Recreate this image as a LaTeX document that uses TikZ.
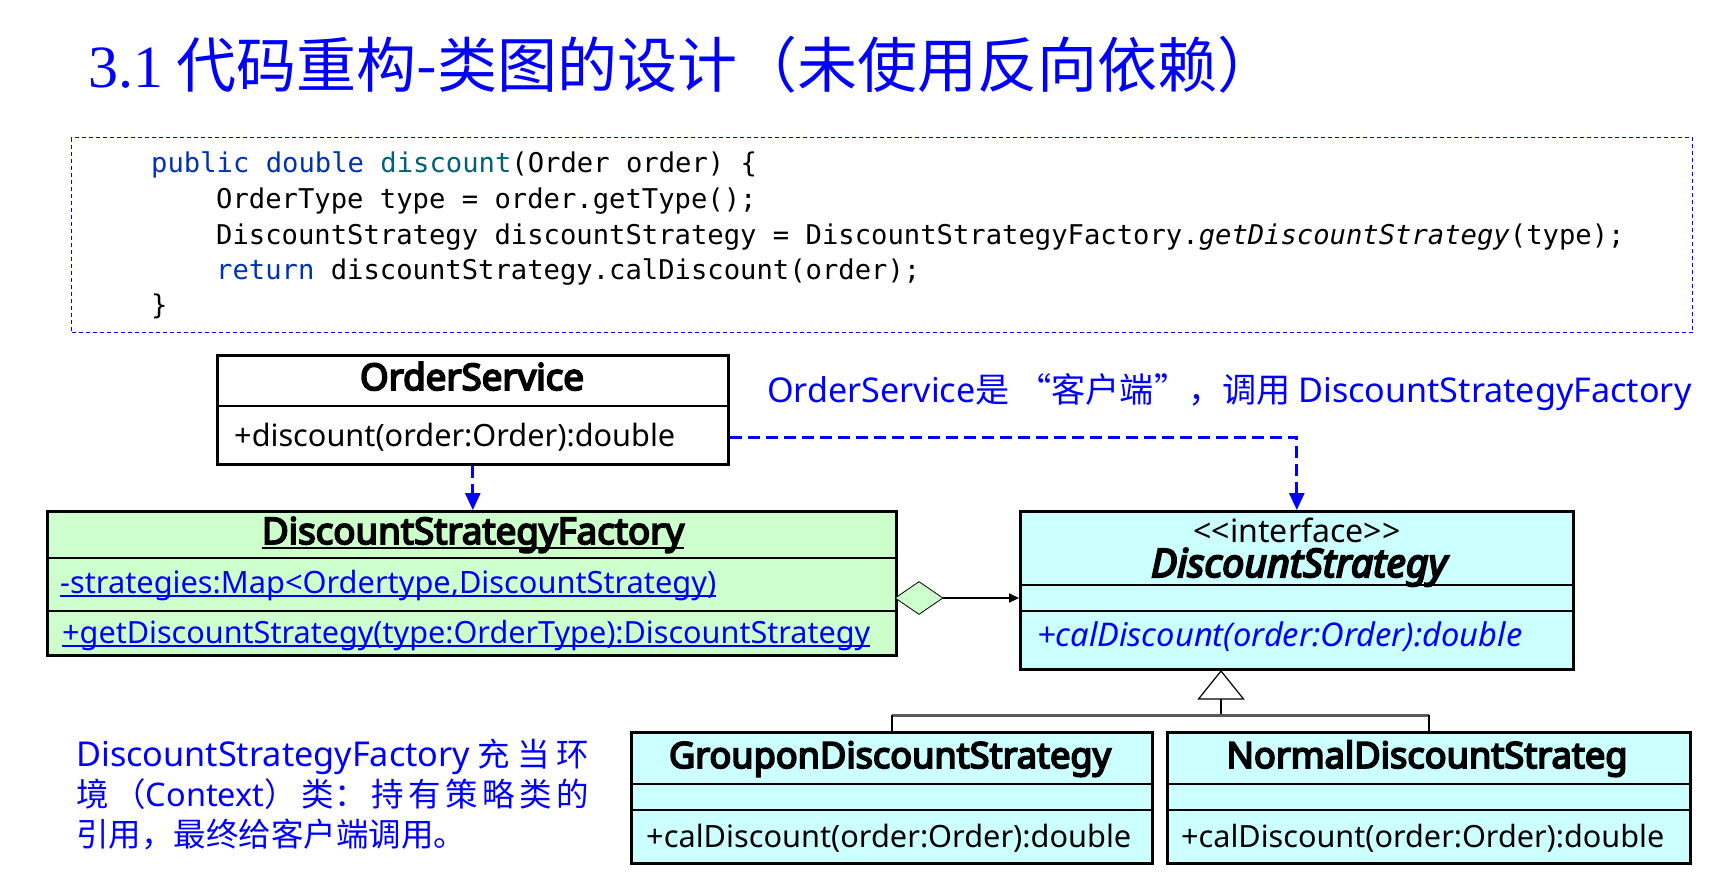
\documentclass[tikz,border=0pt]{standalone}
\usepackage{fontspec}
\setmainfont{Noto Sans CJK SC}
\newfontfamily\umlf{Noto Sans}
\newfontfamily\umlb{Noto Sans}[FakeBold=5]
\newfontfamily\codef{DejaVu Sans Mono}
\newfontfamily\numf{Liberation Serif}
\usetikzlibrary{arrows.meta,shapes.geometric,calc}
\definecolor{kw}{RGB}{0,51,179}
\definecolor{fn}{RGB}{0,98,122}
\definecolor{fgreen}{RGB}{204,255,204}
\definecolor{fcyan}{RGB}{204,255,255}
\newcommand\fitw[2]{\resizebox{#1}{!}{#2}}
\newcommand\ulx[1]{\setbox0\hbox{#1}\rlap{\rule[-0.14em]{\wd0}{0.07em}}\box0}
\newcommand\lat[1]{{\umlf #1}}
\begin{document}
\begin{tikzpicture}[x=1pt,y=-1pt,
  umlbox/.style={draw=black, line width=2.6pt, anchor=north west, inner sep=0pt},
  sepline/.style={line width=2.6pt},
  dep/.style={draw=blue, line width=2.8pt, dash pattern=on 12pt off 6pt, -{Triangle[width=15pt,length=17pt]}},
  txt/.style={anchor=base west, inner sep=0pt, font=\umlf},
  ctxt/.style={anchor=base, inner sep=0pt, font=\umlf},
  codeline/.style={anchor=base west, inner sep=0pt, font=\codef\fontsize{27.2}{32}\selectfont},
  note/.style={anchor=base west, inner sep=0pt, text=blue}]
\useasboundingbox (0,0) rectangle (1731,879);
\fill[white] (0,0) rectangle (1731,879);

% title
\node[anchor=base west, inner sep=0pt, text=blue, font=\fontsize{60}{72}\selectfont] (title) at (88,87)
  {{\numf 3.1} 代码重构-类图的设计（未使用反向依赖）};

% code
\node[draw=blue, dash pattern=on 4pt off 3pt, line width=1.2pt, minimum width=1621pt, minimum height=195pt, anchor=north west, inner sep=0pt] (code) at (71,137) {};
\node[codeline] (c1) at (151,172) {\textcolor{kw}{public double} \textcolor{fn}{discount}(Order order) \{};
\node[codeline] (c2) at (216,208) {OrderType type = order.getType();};
\node[codeline] (c3) at (216,244) {DiscountStrategy discountStrategy = DiscountStrategyFactory.\textit{getDiscountStrategy}(type);};
\node[codeline] (c4) at (216,279) {\textcolor{kw}{return} discountStrategy.calDiscount(order);};
\node[codeline] (c5) at (151,314) {\}};

% OrderService
\node[umlbox, fill=white, minimum width=511pt, minimum height=109pt] (os) at (216,354) {};
\draw[sepline] (216,406) -- (727,406);
\node[ctxt] (osn) at (472,390) {\fitw{224pt}{\umlb OrderService}};
\node[txt] (osm) at (234,446) {\fitw{441pt}{+discount(order:Order):double}};

% DiscountStrategyFactory
\node[umlbox, fill=fgreen, minimum width=849pt, minimum height=144pt] (dsf) at (46,510) {};
\draw[sepline] (46,558) -- (895,558);
\draw[sepline] (46,611) -- (895,611);
\node[ctxt] (dsfn) at (473,544) {\fitw{422pt}{\ulx{\umlb DiscountStrategyFactory}}};
\node[txt, text=blue] (dsfa) at (60,593) {\fitw{656pt}{\ulx{-strategies:Map<Ordertype,DiscountStrategy)}}};
\node[txt, text=blue] (dsfm) at (62,643) {\fitw{808pt}{\ulx{+getDiscountStrategy(type:OrderType):DiscountStrategy}}};

% DiscountStrategy interface
\node[umlbox, fill=fcyan, minimum width=553pt, minimum height=158pt] (ds) at (1019,510) {};
\draw[sepline] (1019,585) -- (1572,585);
\draw[sepline] (1019,611) -- (1572,611);
\node[ctxt] (dsst) at (1297,542) {\fitw{207pt}{<<interface>>}};
\node[ctxt] (dsn) at (1299,577) {\fitw{296pt}{\umlb\itshape DiscountStrategy}};
\node[txt, text=blue] (dsm) at (1037,646) {\fitw{485pt}{\itshape +calDiscount(order:Order):double}};

% Groupon
\node[umlbox, fill=fcyan, minimum width=521pt, minimum height=131pt] (gds) at (630,731) {};
\draw[sepline] (630,784) -- (1151,784);
\draw[sepline] (630,810) -- (1151,810);
\node[ctxt] (gdsn) at (890,768) {\fitw{442pt}{\umlb GrouponDiscountStrategy}};
\node[txt] (gdsm) at (646,847) {\fitw{485pt}{+calDiscount(order:Order):double}};

% Normal
\node[umlbox, fill=fcyan, minimum width=523pt, minimum height=131pt] (nds) at (1166,731) {};
\draw[sepline] (1166,784) -- (1689,784);
\draw[sepline] (1166,810) -- (1689,810);
\node[ctxt] (ndsn) at (1427,768) {\fitw{401pt}{\umlb NormalDiscountStrateg}};
\node[txt] (ndsm) at (1181,847) {\fitw{483pt}{+calDiscount(order:Order):double}};

% dependencies
\draw[dep] (os.south) -- (os.south |- dsf.north);
\draw[dep] ($(os.south east)+(0,-28)$) -| (ds.north);

% aggregation
\node[diamond, draw=black, line width=0.8pt, fill=fgreen, minimum width=48pt, minimum height=33pt, inner sep=0pt] (agg) at (919,598) {};
\draw[line width=2pt, -{Triangle[width=9pt,length=10pt]}] (agg.east) -- (agg.east -| ds.west);

% generalization
\coordinate (genapex) at (1221,671);
\coordinate (genbase) at (1221,699);
\coordinate (bar) at (1221,715);
\draw[line width=2pt] (genbase) -- (bar);
\draw[line width=3pt, black!65] (gds.north |- bar) -- (nds.north |- bar);
\draw[line width=1.5pt] (gds.north) -- (gds.north |- bar);
\draw[line width=1.5pt] (nds.north) -- (nds.north |- bar);
\draw[line width=1.2pt, fill=white] (genapex) -- ($(genbase)+(22.5,0)$) -- ($(genbase)+(-22.5,0)$) -- cycle;

% notes
\node[note] (note1) at (767,402) {\fitw{924pt}{\lat{OrderService}是 “客户端”，调用 \lat{DiscountStrategyFactory}}};
\node[note, font=\fontsize{32.5}{40}\selectfont] (note2) at (76,766) {\hbox to 513pt{\fitw{394pt}{\lat{DiscountStrategyFactory}}\hfil 充\hfil 当\hfil 环}};
\node[note, font=\fontsize{32.5}{40}\selectfont] (note3) at (76,806) {\hbox to 513pt{境\hfil （\lat{Context}）\hfil 类：\hfil 持\hfil 有\hfil 策\hfil 略\hfil 类\hfil 的}};
\node[note, font=\fontsize{32.5}{40}\selectfont] (note4) at (76,846) {引用，最终给客户端调用。};
\end{tikzpicture}
\end{document}
